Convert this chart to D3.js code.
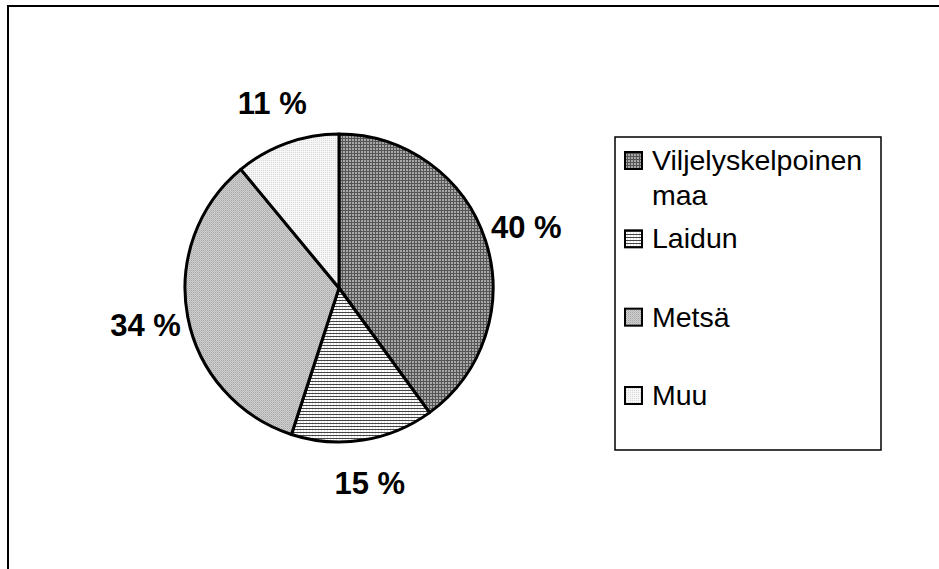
<!DOCTYPE html>
<html><head><meta charset="utf-8">
<script src="https://cdn.jsdelivr.net/npm/d3@7/dist/d3.min.js"></script>
<style>body{margin:0;background:#fff}svg{display:block}</style>
</head><body>
<svg id="c" width="939" height="569"></svg>
<script>
const categories = ["Viljelyskelpoinen maa", "Laidun", "Metsä", "Muu"];
const legendLines = [["Viljelyskelpoinen", "maa"], ["Laidun"], ["Metsä"], ["Muu"]];
const values = [40, 15, 34, 11];
const labels = ["40 %", "15 %", "34 %", "11 %"];

const svg = d3.select("#c");
const defs = svg.append("defs");

function pat(id, size, bg, draw) {
  const p = defs.append("pattern").attr("id", id).attr("patternUnits", "userSpaceOnUse")
    .attr("width", size).attr("height", size);
  p.append("rect").attr("width", size).attr("height", size).attr("fill", bg);
  draw(p);
}
pat("p0", 3, "#a8a8a8", p => {
  p.append("rect").attr("width", 3).attr("height", 1).attr("fill", "#555");
  p.append("rect").attr("width", 1).attr("height", 3).attr("fill", "#555");
});
pat("p1", 3, "#ffffff", p => {
  p.append("rect").attr("width", 1).attr("height", 3).attr("fill", "#e2e2e2");
  p.append("rect").attr("width", 3).attr("height", 1).attr("fill", "#444");
});
pat("p2", 2, "#cfcfcf", p => {
  p.append("rect").attr("width", 1).attr("height", 1).attr("fill", "#a6a6a6");
  p.append("rect").attr("x", 1).attr("y", 1).attr("width", 1).attr("height", 1).attr("fill", "#bababa");
});
pat("p3", 2, "#f6f6f6", p => {
  p.append("rect").attr("width", 1).attr("height", 1).attr("fill", "#d8d8d8");
});
const fills = ["url(#p0)", "url(#p1)", "url(#p2)", "url(#p3)"];

// outer frame
svg.append("rect").attr("x", 8).attr("y", 6).attr("width", 960).attr("height", 600)
  .attr("fill", "none").attr("stroke", "#000").attr("stroke-width", 2);

const cx = 339, cy = 288, R = 154;
const pie = d3.pie().sort(null).value(d => d);
const arcs = pie(values);
const arc = d3.arc().innerRadius(0).outerRadius(R);
const g = svg.append("g").attr("transform", `translate(${cx},${cy})`);
g.selectAll("path.s").data(arcs).enter().append("path")
  .attr("d", arc).attr("fill", (d, i) => fills[i])
  .attr("stroke", "#000").attr("stroke-width", 3).attr("stroke-linejoin", "round");

const labelArc = d3.arc().innerRadius(197).outerRadius(197);
g.selectAll("text.l").data(arcs).enter().append("text")
  .attr("transform", d => `translate(${labelArc.centroid(d)})`)
  .attr("text-anchor", "middle").attr("dy", "0.36em")
  .attr("font-family", "Liberation Sans, Arial, sans-serif")
  .attr("font-weight", "bold").attr("font-size", 31)
  .text((d, i) => labels[i]);

// legend
const lg = svg.append("g");
lg.append("rect").attr("x", 615).attr("y", 137).attr("width", 266).attr("height", 313)
  .attr("fill", "#fff").attr("stroke", "#000").attr("stroke-width", 1.5);
const ly = d3.scalePoint().domain(categories).range([170, 405]);
categories.forEach((c, i) => {
  const y = ly(c);
  lg.append("rect").attr("x", 625).attr("y", y - 18).attr("width", 17).attr("height", 17)
    .attr("fill", fills[i]).attr("stroke", "#000").attr("stroke-width", 2);
  const t = lg.append("text").attr("x", 652).attr("y", y)
    .attr("font-family", "Liberation Sans, Arial, sans-serif").attr("font-size", 28.5);
  legendLines[i].forEach((ln, j) => {
    t.append("tspan").attr("x", 652).attr("dy", j === 0 ? 0 : 35).text(ln);
  });
});
</script>
</body></html>
